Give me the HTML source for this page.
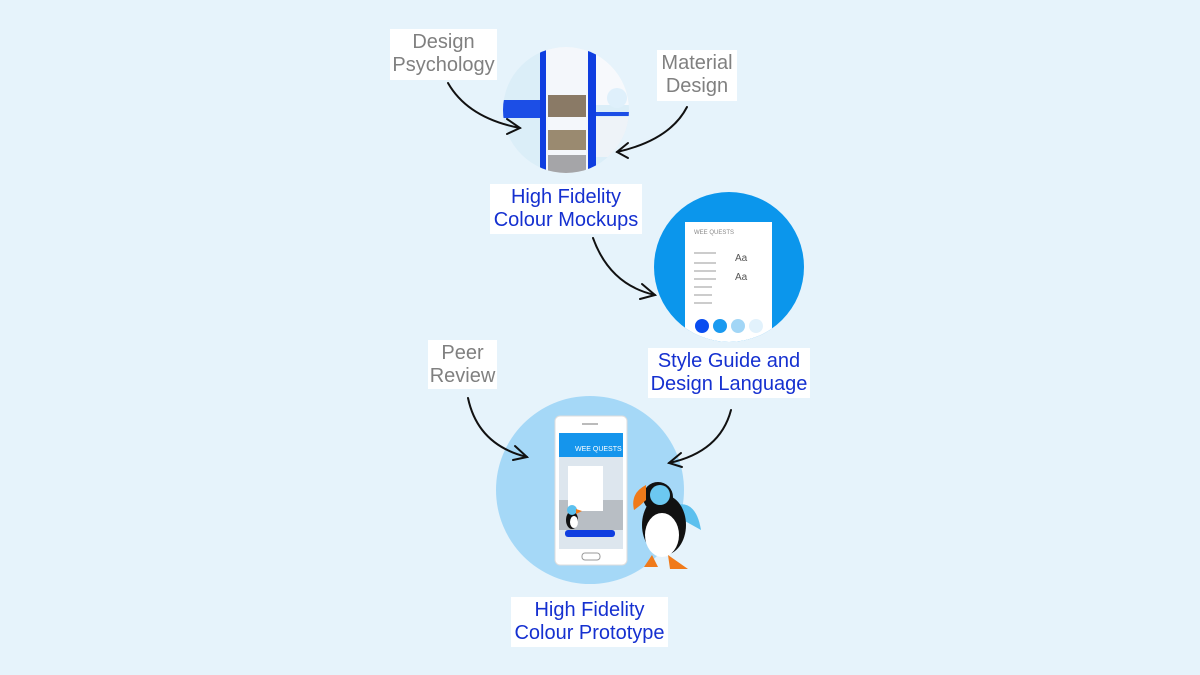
<!DOCTYPE html>
<html><head><meta charset="utf-8"><style>
html,body{margin:0;padding:0}
body{width:1200px;height:675px;background:#e6f3fb;position:relative;overflow:hidden;font-family:"Liberation Sans",sans-serif}
.lbl{position:absolute;background:#fff;text-align:center;font-size:20px;line-height:23px;box-sizing:border-box;padding-top:2px;white-space:nowrap}
.g{color:#808080}
.b{color:#1530d0}
svg{position:absolute;left:0;top:0}
</style></head><body>
<svg width="1200" height="675" viewBox="0 0 1200 675">
<defs>
<clipPath id="c1"><circle cx="566" cy="110" r="63"/></clipPath>
<clipPath id="c2"><circle cx="729" cy="267" r="75"/></clipPath>
</defs>
<g clip-path="url(#c1)">
<rect x="500" y="45" width="135" height="135" fill="#dbeef8"/>
<rect x="502" y="100" width="38" height="18" fill="#1c4ee6"/>
<rect x="540" y="45" width="6" height="130" fill="#0f3ee0"/>
<rect x="546" y="45" width="42" height="130" fill="#f4f7fb"/>
<rect x="548" y="95" width="38" height="22" fill="#8a7a66"/>
<rect x="548" y="130" width="38" height="20" fill="#9a8a70"/>
<rect x="548" y="155" width="38" height="20" fill="#a5a5a8"/>
<rect x="588" y="45" width="8" height="130" fill="#0f3ee0"/>
<rect x="596" y="45" width="35" height="60" fill="#f7f9fc"/>
<rect x="596" y="117" width="35" height="40" fill="#eef3f8"/>
<circle cx="617" cy="98" r="10" fill="#dff0fb"/>
<rect x="596" y="112" width="35" height="4" fill="#1c4ee6"/>
</g>
<circle cx="729" cy="267" r="75" fill="#0b96ec"/>
<g clip-path="url(#c2)">
<rect x="685" y="222" width="87" height="130" fill="#fff"/>
<text x="694" y="234" font-size="6" fill="#888">WEE QUESTS</text>
<text x="735" y="261" font-size="10" fill="#555">Aa</text>
<text x="735" y="280" font-size="10" fill="#555">Aa</text>
<g fill="#ccc"><rect x="694" y="252" width="22" height="2"/><rect x="694" y="262" width="22" height="2"/><rect x="694" y="270" width="22" height="2"/><rect x="694" y="278" width="22" height="2"/><rect x="694" y="286" width="18" height="2"/><rect x="694" y="294" width="18" height="2"/><rect x="694" y="302" width="18" height="2"/></g>
<circle cx="702" cy="326" r="7" fill="#0a4df0"/>
<circle cx="720" cy="326" r="7" fill="#1a9af0"/>
<circle cx="738" cy="326" r="7" fill="#a2d6f6"/>
<circle cx="756" cy="326" r="7" fill="#e2f2fc"/>
</g>
<circle cx="590" cy="490" r="94" fill="#a5d8f7"/>
<rect x="555" y="416" width="72" height="149" rx="5" fill="#fff" stroke="#ddd"/>
<rect x="582" y="423" width="16" height="2" fill="#bbb"/>
<rect x="559" y="433" width="64" height="24" fill="#1595ec"/>
<text x="575" y="451" font-size="7" fill="#fff">WEE QUESTS</text>
<rect x="559" y="457" width="64" height="92" fill="#dde6ee"/>
<rect x="559" y="500" width="64" height="30" fill="#b8bec4"/>
<rect x="568" y="466" width="35" height="45" fill="#fff"/>
<rect x="565" y="530" width="50" height="7" rx="3" fill="#0f3ee0"/>
<rect x="582" y="553" width="18" height="7" rx="3" fill="#fff" stroke="#999"/>
<ellipse cx="572" cy="520" rx="6" ry="9" fill="#111"/>
<ellipse cx="574" cy="522" rx="4" ry="6" fill="#fff"/>
<circle cx="572" cy="510" r="5" fill="#5cc0ee"/>
<path d="M576 509 l6 2 -6 3z" fill="#f07a1a"/>
<path d="M676 505 q20 -5 25 25 l-18 -10z" fill="#5cc0ee"/>
<ellipse cx="664" cy="525" rx="22" ry="30" fill="#111"/>
<ellipse cx="662" cy="535" rx="17" ry="22" fill="#fff"/>
<circle cx="658" cy="497" r="15" fill="#111"/>
<circle cx="660" cy="495" r="10" fill="#6cc8f0"/>
<path d="M646 485 q-16 8 -12 25 q6 -4 12 -10z" fill="#f07a1a"/>
<path d="M652 555 l-8 12 14 0z M668 555 l2 14 18 0z" fill="#f07a1a"/>
<g fill="none" stroke="#111" stroke-width="2" stroke-linecap="round">
<path d="M448 83 Q468 118 520 128"/><path d="M507 119 L520 128 L507 134"/>
<path d="M687 107 Q670 140 617 152"/><path d="M628 143 L617 152 L628 158"/>
<path d="M593 238 Q610 285 655 295"/><path d="M642 284 L655 295 L640 299"/>
<path d="M468 398 Q478 445 527 457"/><path d="M515 446 L527 457 L513 460"/>
<path d="M731 410 Q720 452 669 463"/><path d="M681 453 L669 463 L682 467"/>
</g>
</svg>
<div class="lbl g" style="left:390px;top:29px;width:107px;height:51px">Design<br>Psychology</div>
<div class="lbl g" style="left:657px;top:50px;width:80px;height:51px">Material<br>Design</div>
<div class="lbl b" style="left:490px;top:184px;width:152px;height:50px">High Fidelity<br>Colour Mockups</div>
<div class="lbl b" style="left:648px;top:348px;width:162px;height:50px">Style Guide and<br>Design Language</div>
<div class="lbl g" style="left:428px;top:340px;width:69px;height:49px">Peer<br>Review</div>
<div class="lbl b" style="left:511px;top:597px;width:157px;height:50px">High Fidelity<br>Colour Prototype</div>
</body></html>
